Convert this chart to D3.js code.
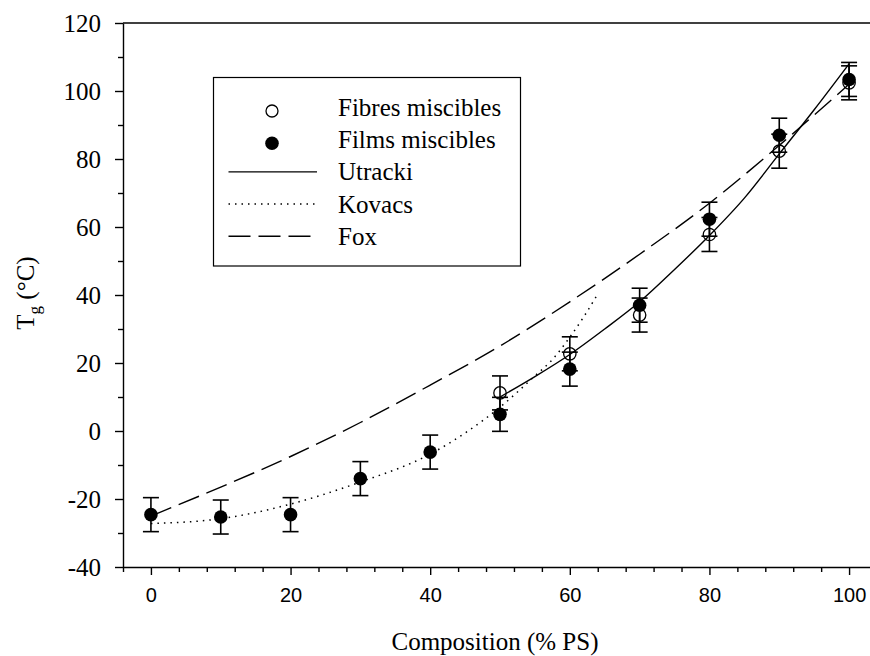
<!DOCTYPE html>
<html>
<head>
<meta charset="utf-8">
<script src="https://cdn.jsdelivr.net/npm/d3@7"></script>
<style>
  body { margin: 0; background: #fff; }
  svg { display: block; }
</style>
</head>
<body>
<svg></svg>
<script>
// Measured points (Tg in °C vs % PS), error bars are +/- 5
var composition = [0, 10, 20, 30, 40, 50, 60, 70, 80, 90, 100];
var filmsTg = [-24.6, -25.3, -24.6, -14.0, -6.2, 4.9, 18.2, 37.0, 62.3, 87.0, 103.4];
var filmsErr = [5, 5, 5, 5, 5, 5, 5, 5, 5, 5, 5];

var fibresComp = [50, 60, 70, 80, 90, 100];
var fibresTg = [11.2, 22.7, 34.1, 57.8, 82.3, 102.4];
var fibresErr = [5, 5, 5, 5, 5, 5];

// Model curves
var utrackiX = [50, 55, 60, 65, 70, 75, 80, 85, 90, 95, 100];
var utrackiY = [10, 16, 22.5, 30, 38, 47.5, 57.5, 68.5, 81.5, 94.5, 108];

var kovacsX = [0, 10, 20, 30, 40, 45, 50, 55, 57.5, 60, 62, 64];
var kovacsY = [-27.2, -25.8, -21.5, -15, -6.8, -0.6, 7, 16.2, 21, 27.6, 33.6, 40.3];

var foxX = [0, 10, 20, 30, 40, 50, 60, 70, 80, 90, 100];
var foxY = [-25, -16.5, -7.5, 2.5, 13.5, 25, 38, 52, 67, 84, 102];

var xMajor = [0, 20, 40, 60, 80, 100];
var yMajor = [-40, -20, 0, 20, 40, 60, 80, 100, 120];

var legendLabels = ["Fibres miscibles", "Films miscibles", "Utracki", "Kovacs", "Fox"];

var SERIF = "'Liberation Serif', 'Times New Roman', serif";
var SANS = "'Liberation Sans', Arial, sans-serif";

// Dimensions
var W = 870, H = 656;
var margin = {top: 23, left: 123},
    width = 754,
    height = 544;

var svg = d3.select("svg")
    .attr("width", W)
    .attr("height", H);

var g = svg.append("g")
    .attr("transform", `translate(${margin.left},${margin.top})`);

var x = d3.scaleLinear().domain([-4, 104]).range([0, width]);
var y = d3.scaleLinear().domain([-40, 120]).range([height, 0]);

// minor ticks
var xMinor = d3.range(-4, 105, 4).filter(v => xMajor.indexOf(v) < 0);
var yMinor = d3.range(-30, 120, 20);

// x axis
var xAxisG = g.append("g")
    .attr("transform", `translate(0,${height})`)
    .call(d3.axisBottom(x).tickValues(xMajor).tickSize(8).tickSizeOuter(0).tickPadding(13)
        .tickFormat(d => String(d)));
xAxisG.selectAll("text").style("font-family", SANS).style("font-size", "20px");
g.append("g")
    .attr("transform", `translate(0,${height})`)
    .call(d3.axisBottom(x).tickValues(xMinor).tickSize(5).tickFormat(""))
    .select(".domain").remove();

// y axis
var yAxisG = g.append("g")
    .call(d3.axisLeft(y).tickValues(yMajor).tickSize(8).tickSizeOuter(0).tickPadding(14)
        .tickFormat(d => String(d)));
yAxisG.selectAll("text").style("font-family", SERIF).style("font-size", "25px");
g.append("g")
    .call(d3.axisLeft(y).tickValues(yMinor).tickSize(5).tickFormat(""))
    .select(".domain").remove();

g.selectAll(".domain, .tick line").attr("stroke", "#000").attr("stroke-width", 1.4);

// top frame
g.append("line")
    .attr("x1", 0).attr("x2", width)
    .attr("y1", 0).attr("y2", 0)
    .attr("stroke", "#000").attr("stroke-width", 1.4);

// axis titles
svg.append("text")
    .attr("x", 495).attr("y", 650)
    .attr("text-anchor", "middle")
    .style("font-family", SERIF)
    .style("font-size", "25px")
    .text("Composition (% PS)");

var yt = svg.append("text")
    .attr("transform", "translate(34,293) rotate(-90)")
    .attr("text-anchor", "middle")
    .style("font-family", SERIF)
    .style("font-size", "25px");
yt.append("tspan").text("T");
yt.append("tspan").attr("dy", 6).style("font-size", "17px").text("g");
yt.append("tspan").attr("dy", -6).text(" (°C)");

// curves
var line = d3.line()
    .x(d => x(d[0]))
    .y(d => y(d[1]))
    .curve(d3.curveMonotoneX);

g.append("path")
    .datum(d3.zip(foxX, foxY))
    .attr("d", line)
    .attr("fill", "none").attr("stroke", "#000").attr("stroke-width", 1.4)
    .attr("stroke-dasharray", "22,8");

g.append("path")
    .datum(d3.zip(kovacsX, kovacsY))
    .attr("d", line)
    .attr("fill", "none").attr("stroke", "#000").attr("stroke-width", 1.5)
    .attr("stroke-dasharray", "1.5,5");

g.append("path")
    .datum(d3.zip(utrackiX, utrackiY))
    .attr("d", line)
    .attr("fill", "none").attr("stroke", "#000").attr("stroke-width", 1.4);

// error bars
function errorBars(xs, ys, es) {
    var data = d3.zip(xs, ys, es);
    var eg = g.append("g").attr("stroke", "#000").attr("stroke-width", 1.6);
    eg.selectAll("line.v").data(data).enter().append("line")
        .attr("x1", d => x(d[0])).attr("x2", d => x(d[0]))
        .attr("y1", d => y(d[1] - d[2])).attr("y2", d => y(d[1] + d[2]));
    [-1, 1].forEach(s => {
        eg.selectAll("line.c" + s).data(data).enter().append("line")
            .attr("x1", d => x(d[0]) - 8).attr("x2", d => x(d[0]) + 8)
            .attr("y1", d => y(d[1] + s * d[2])).attr("y2", d => y(d[1] + s * d[2]));
    });
}
errorBars(composition, filmsTg, filmsErr);
errorBars(fibresComp, fibresTg, fibresErr);

// markers
g.selectAll("circle.fibres")
    .data(d3.zip(fibresComp, fibresTg))
    .enter().append("circle")
    .attr("cx", d => x(d[0])).attr("cy", d => y(d[1]))
    .attr("r", 6.2)
    .attr("fill", "none").attr("stroke", "#000").attr("stroke-width", 1.3);

g.selectAll("circle.films")
    .data(d3.zip(composition, filmsTg))
    .enter().append("circle")
    .attr("cx", d => x(d[0])).attr("cy", d => y(d[1]))
    .attr("r", 6.8)
    .attr("fill", "#000");

// legend
var lg = svg.append("g");
lg.append("rect")
    .attr("x", 213.5).attr("y", 77.5)
    .attr("width", 307).attr("height", 188.5)
    .attr("fill", "#fff").attr("stroke", "#000").attr("stroke-width", 1.2);

legendLabels.forEach((lab, i) => {
    var base = 116 + i * 32.2;
    lg.append("text")
        .attr("x", 338).attr("y", base)
        .style("font-family", SERIF)
        .style("font-size", "25px")
        .text(lab);
    if (i === 0) {
        lg.append("circle").attr("cx", 272).attr("cy", base - 5).attr("r", 6)
            .attr("fill", "none").attr("stroke", "#000").attr("stroke-width", 1.3);
    } else if (i === 1) {
        lg.append("circle").attr("cx", 272).attr("cy", base - 5).attr("r", 6.8)
            .attr("fill", "#000");
    } else {
        var dash = i === 3 ? "1.5,5" : (i === 4 ? "22,8" : null);
        lg.append("line")
            .attr("x1", 228.5).attr("x2", 317)
            .attr("y1", base - 8.5).attr("y2", base - 8.5)
            .attr("stroke", "#000").attr("stroke-width", i === 3 ? 1.5 : 1.4)
            .attr("stroke-dasharray", dash);
    }
});
</script>
</body>
</html>
